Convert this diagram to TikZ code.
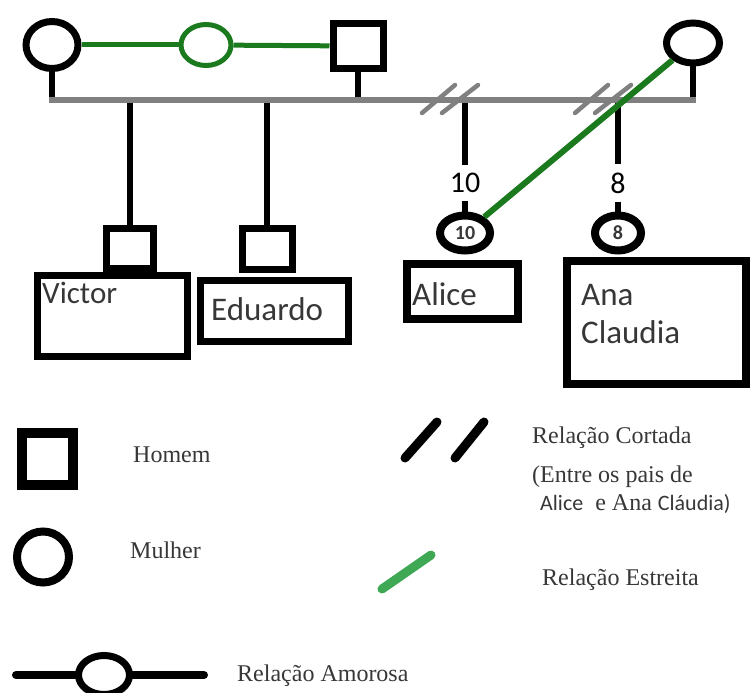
\documentclass[tikz,border=0pt]{standalone}
\usepackage{fontspec}
\setmainfont{Carlito}
\newfontfamily\serifa{Liberation Serif}
\newfontfamily\calibri{Carlito}
\usetikzlibrary{shapes.geometric}
\definecolor{verdeesc}{RGB}{28,122,30}
\definecolor{verdeleg}{RGB}{62,168,84}
\definecolor{cinza}{RGB}{128,128,128}
\definecolor{texto}{RGB}{55,55,55}

\begin{document}
\begin{tikzpicture}[x=1pt, y=-1pt,
  mulher/.style={draw, ellipse, line width=7pt, minimum width=52pt, minimum height=47pt, inner sep=0pt},
  homem/.style={draw, line width=7pt, minimum width=50pt, minimum height=45pt, inner sep=0pt},
  caixa/.style={draw, line width=7pt, inner sep=0pt},
  nome/.style={inner sep=0pt, text=texto, font=\fontsize{33}{38}\selectfont},
  idade/.style={inner xsep=2pt, inner ysep=8pt, font=\fontsize{30}{34}\selectfont},
  legenda/.style={inner sep=0pt, anchor=west, text=texto, font=\serifa\fontsize{24}{28}\selectfont},
  linha/.style={line width=5.5pt},
  uniao/.style={line width=6pt, cinza, line cap=rect},
  amor/.style={line width=5pt, verdeesc},
  corte/.style={line width=4.5pt, cinza, line cap=round},
  simbolo/.style={line width=9pt, line cap=round}
]
\useasboundingbox (0,0) rectangle (752,693);

% pais
\node[mulher] (maeA) at (52,45) {};
\node[mulher, draw=verdeesc, line width=5pt, minimum width=50pt, minimum height=41pt] (amante) at (206,45) {};
\node[homem] (pai) at (358,46) {};
\node[mulher, minimum width=53pt, minimum height=40pt] (maeB) at (693,43) {};
\coordinate (uniaoE) at (52,100);
\coordinate (uniaoD) at (693,100);
\coordinate (corteA) at (450,100);
\coordinate (corteB) at (603,100);

% filhos
\node[homem, minimum width=47pt, minimum height=40pt] (victor) at (130,248.5) {};
\node[homem, minimum width=50pt, minimum height=41pt] (eduardo) at (267,249) {};
\node[mulher, line width=8pt, minimum width=50pt, minimum height=35pt, text=texto,
  font=\bfseries\fontsize{20}{20}\selectfont] (alice) at (465,233) {10};
\node[mulher, line width=8pt, minimum width=46pt, minimum height=35pt, text=texto,
  font=\bfseries\fontsize{20}{20}\selectfont] (ana) at (618,233) {8};
\node[idade] (idAlice) at (465,183) {10};
\node[idade] (idAna) at (618,183) {8};

\node[caixa, minimum width=150pt, minimum height=81pt] (cxVictor) at (112.5,316) {};
\node[caixa, minimum width=148pt, minimum height=61pt] (cxEduardo) at (274.5,311) {};
\node[caixa, line width=8pt, minimum width=111pt, minimum height=55pt] (cxAlice) at (462.5,291.5) {};
\node[caixa, line width=8pt, minimum width=179pt, minimum height=123pt] (cxAna) at (656.5,322.5) {};
\node[nome, anchor=base west, font=\fontsize{31}{36}\selectfont] (tVictor) at (42,303) {Victor};
\node[nome, anchor=base west] (tEduardo) at (211,320) {Eduardo};
\node[nome, anchor=base west] (tAlice) at (412,305) {Alice};
\node[nome, anchor=north west, align=left] (tAna) at (581,284) {Ana\\Claudia};

\draw[amor] (maeA) -- (amante);
\draw[amor] (amante) -- (pai);
\draw[linha] (maeA) -- (uniaoE);
\draw[linha] (pai) -- (pai |- uniaoE);
\draw[linha] (maeB) -- (uniaoD);
\draw[linha] (victor |- uniaoE) -- (victor);
\draw[linha] (eduardo |- uniaoE) -- (eduardo);
\draw[linha] (alice |- uniaoE) -- (idAlice);
\draw[linha] (idAlice) -- (alice);
\draw[linha] (ana |- uniaoE) -- (idAna);
\draw[linha] (idAna) -- (ana);
\draw[uniao] (uniaoE) -- (uniaoD);
\foreach \c in {corteA,corteB} {
  \draw[corte] ([shift={(-28,13)}]\c) -- ([shift={(5,-15)}]\c);
  \draw[corte] ([shift={(-8,13)}]\c) -- ([shift={(28,-15)}]\c);
}
\draw[amor, line width=6pt] (maeB) -- (alice);

% legenda
\node[homem, line width=10pt, minimum width=51pt, minimum height=52pt] (lgHomem) at (47.5,459) {};
\node[legenda] (txHomem) at (133,455) {Homem};
\node[mulher, line width=8pt, minimum width=52pt, minimum height=51pt] (lgMulher) at (43,557) {};
\node[legenda] (txMulher) at (130,550) {Mulher};
\draw[simbolo] (405,458) -- (437,422);
\draw[simbolo] (455,458) -- (484,422);
\node[legenda] (txCortada) at (532,438) {Relação Cortada};
\node[legenda] (txEntre) at (532,477) {(Entre os pais de};
\node[legenda] (txPais) at (540,504) {{\calibri\fontsize{22}{26}\selectfont Alice}\ \ e Ana {\calibri\fontsize{22}{26}\selectfont Cláudia)}};
\draw[simbolo, verdeleg] (382,589) -- (431,555);
\node[legenda] (txEstreita) at (542,580) {Relação Estreita};
\node[mulher, minimum width=51pt, minimum height=39pt] (lgAmor) at (104,675) {};
\draw[simbolo, line width=8pt] (lgAmor.west) -- ++(-59,0);
\draw[simbolo, line width=8pt] (lgAmor.east) -- ++(71,0);
\node[legenda] (txAmor) at (237,676) {Relação Amorosa};
\end{tikzpicture}
\end{document}
